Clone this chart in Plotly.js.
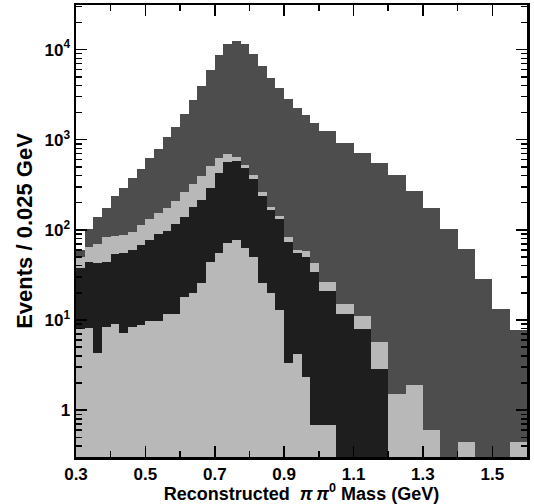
<!DOCTYPE html>
<html>
<head>
<meta charset="utf-8">
<script src="https://cdn.plot.ly/plotly-3.0.1.min.js"></script>
<style>
  html, body { margin: 0; padding: 0; background: #ffffff; }
  #chart { width: 534px; height: 504px; }
</style>
</head>
<body>
<div id="chart"></div>
<script>
// Bin low edges: 0.3 to 1.575 GeV in 0.025 GeV steps (52 bins)
const binLowEdges = [];
for (let i = 0; i < 52; i++) binLowEdges.push(+(0.3 + 0.025 * i).toFixed(3));
const binWidth = 0.025;

// Total (dark gray)
const totalCounts = [
  60, 102, 140, 174, 237, 293, 372, 469, 627, 782,
  1064, 1396, 1928, 2754, 3981, 5984, 8710, 11641, 12589, 11540,
  8935, 6531, 4898, 3776, 2866, 2277, 1879, 1545, 1239, 1239,
  926, 926, 718, 718, 547, 547, 406, 406, 273, 273,
  173, 173, 103, 103, 60.8, 60.8, 28.8, 28.8, 13.3, 13.3,
  7.8, 7.8
];

// Second component (light gray, upper band)
const componentA = [
  49.5, 65.3, 69, 82.6, 86.5, 87.5, 95.7, 113, 132, 154,
  175, 209, 266, 327, 401, 511, 622, 694, 648, 524,
  406, 265, 180, 141, 83.8, 59.2, 58.2, 42.5, 26.5, 26.5,
  15, 15, 11.1, 11.1, 5.69, 5.69, null, null, null, null,
  null, null, null, null, null, null, null, null, null, null,
  null, null
];

// Third component (black)
const componentB = [
  37.4, 44.3, 42.5, 44.3, 54.6, 56, 59.7, 67.8, 76.4, 89.8,
  97, 116, 140, 179, 216, 291, 427, 570, 585, 482,
  369, 239, 166, 131, 72.6, 55.7, 49.9, 34.3, 21.1, 21.1,
  11.6, 11.6, 7.87, 7.87, 2.89, 2.89, null, null, null, null,
  null, null, null, null, null, null, null, null, null, null,
  null, null
];

// Fourth component (light gray, bottom)
const componentC = [
  7.85, 8.05, 4.26, 8.41, 9.02, 7.10, 8.28, 8.77, 9.8, 9.8,
  11.8, 11.8, 18.1, 20, 25.9, 44.3, 54.8, 71.9, 77.1, 62.4,
  50.4, 25.9, 20, 12.9, 3.3, 4.19, 2.34, 0.69, 0.69, 0.69,
  null, null, null, null, null, null, 1.51, 1.51, 1.89, 1.89,
  0.6, 0.6, null, null, 0.44, 0.44, null, null, null, null,
  0.44, 0.44
];

const xTickVals = [0.3, 0.5, 0.7, 0.9, 1.1, 1.3, 1.5];
const xTickText = ['0.3', '0.5', '0.7', '0.9', '1.1', '1.3', '1.5'];
const xMinorVals = [0.4, 0.6, 0.8, 1.0, 1.2, 1.4, 1.6];
const yTickVals = [1, 10, 100, 1000, 10000];
const yTickText = ['1', '10<sup>1</sup>', '10<sup>2</sup>', '10<sup>3</sup>', '10<sup>4</sup>'];
const yMinorVals = [0.3, 0.4, 0.5, 0.6, 0.7, 0.8, 0.9,
  2, 3, 4, 5, 6, 7, 8, 9,
  20, 30, 40, 50, 60, 70, 80, 90,
  200, 300, 400, 500, 600, 700, 800, 900,
  2000, 3000, 4000, 5000, 6000, 7000, 8000, 9000,
  20000, 30000];

const centers = binLowEdges.map(e => e + binWidth / 2);

function barTrace(vals, color, name) {
  return {
    type: 'bar', x: centers, y: vals, width: binWidth, name: name,
    marker: { color: color, line: { width: 0 } },
    hoverinfo: 'skip', showlegend: false
  };
}

const data = [
  barTrace(totalCounts, '#4d4d4d', 'Total'),
  barTrace(componentA, '#b8b8b8', 'A'),
  barTrace(componentB, '#1e1e1e', 'B'),
  barTrace(componentC, '#b8b8b8', 'C')
];

const fam = 'Liberation Sans, Arial, Helvetica, sans-serif';
const tickFont = { family: fam, size: 17, color: '#000', weight: 'bold' };

const layout = {
  width: 534, height: 504,
  margin: { l: 76, r: 7, t: 5, b: 47 },
  paper_bgcolor: '#ffffff', plot_bgcolor: '#ffffff',
  barmode: 'overlay', bargap: 0,
  xaxis: {
    range: [0.3, 1.6], tickmode: 'array', tickvals: xTickVals, ticktext: xTickText,
    ticks: 'inside', ticklen: 11, tickwidth: 1.5, tickcolor: '#000',
    showline: true, linewidth: 2.5, linecolor: '#000', mirror: 'ticks',
    showgrid: false, zeroline: false, tickfont: tickFont,
    minor: { tickmode: 'array', tickvals: xMinorVals, ticks: 'inside', ticklen: 6, tickwidth: 1.5, tickcolor: '#000', showgrid: false },
    title: { text: 'Reconstructed\u00a0\u00a0<i>π\u2009π</i><sup>0</sup> Mass (GeV)', font: { family: fam, size: 18, color: '#000', weight: 'bold' }, standoff: 3 }
  },
  yaxis: {
    type: 'log', range: [-0.52, 4.495], tickmode: 'array', tickvals: yTickVals, ticktext: yTickText,
    ticks: 'inside', ticklen: 11, tickwidth: 1.5, tickcolor: '#000',
    showline: true, linewidth: 2.5, linecolor: '#000', mirror: 'ticks',
    showgrid: false, zeroline: false, tickfont: tickFont,
    minor: { tickmode: 'array', tickvals: yMinorVals, ticks: 'inside', ticklen: 6, tickwidth: 1.5, tickcolor: '#000', showgrid: false },
    title: { text: 'Events / 0.025 GeV', font: { family: fam, size: 22, color: '#000', weight: 'bold' }, standoff: 6 }
  }
};

Plotly.newPlot('chart', data, layout, { staticPlot: true, displayModeBar: false });
</script>
</body>
</html>
